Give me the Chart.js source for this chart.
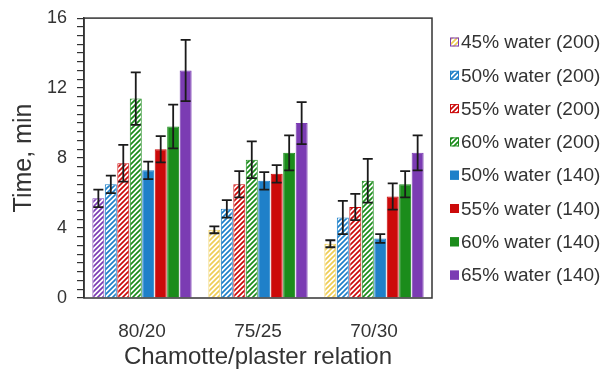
<!DOCTYPE html>
<html>
<head>
<meta charset="utf-8">
<script src="https://cdn.jsdelivr.net/npm/chart.js@4.4.0/dist/chart.umd.min.js"></script>
<style>
  html, body { margin: 0; padding: 0; background: #fff; }
  #wrap { width: 610px; height: 375px; }
</style>
</head>
<body>
<div id="wrap"><canvas id="chart" width="610" height="375"></canvas></div>
<script>
'use strict';

// categories and series
const categories = ['80/20', '75/25', '70/30'];
const seriesLabels = [
  '45% water (200)', '50% water (200)', '55% water (200)', '60% water (200)',
  '50% water (140)', '55% water (140)', '60% water (140)', '65% water (140)'
];
const w45_200 = [5.7, 3.9, 3.1];
const w50_200 = [6.5, 5.1, 4.6];
const w55_200 = [7.7, 6.5, 5.2];
const w60_200 = [11.4, 7.9, 6.7];
const w50_140 = [7.3, 6.7, 3.4];
const w55_140 = [8.5, 7.1, 5.8];
const w60_140 = [9.8, 8.3, 6.5];
const w65_140 = [13.0, 10.0, 8.3];

// error bar half-widths
const e45_200 = [0.5, 0.2, 0.2];
const e50_200 = [0.5, 0.5, 0.95];
const e55_200 = [1.05, 0.75, 0.75];
const e60_200 = [1.5, 1.05, 1.25];
const e50_140 = [0.5, 0.5, 0.25];
const e55_140 = [0.75, 0.5, 0.75];
const e60_140 = [1.25, 1.0, 0.75];
const e65_140 = [1.75, 1.2, 1.0];

const yTicks = [0, 4, 8, 12, 16];

const BLUE = '#1f80c9', RED = '#cc0a0a', GREEN = '#1b8c1b', PURPLE = '#7b3cb3', YELLOW = '#efcd55';
const FONT = 'Liberation Sans, Arial, sans-serif';
const TXT = '#333';

// diagonal hatch pattern: white ground, coloured "/" stripes
function hatch(color) {
  const c = document.createElement('canvas');
  c.width = 5; c.height = 5;
  const g = c.getContext('2d');
  g.fillStyle = '#fff';
  g.fillRect(0, 0, 5, 5);
  g.strokeStyle = color;
  g.lineWidth = 1.7;
  g.beginPath();
  g.moveTo(-1, 6); g.lineTo(6, -1);
  g.moveTo(-1, 1); g.lineTo(1, -1);
  g.moveTo(4, 6); g.lineTo(6, 4);
  g.stroke();
  return g.createPattern(c, 'repeat');
}

const values = [w45_200, w50_200, w55_200, w60_200, w50_140, w55_140, w60_140, w65_140];
const errors = [e45_200, e50_200, e55_200, e60_200, e50_140, e55_140, e60_140, e65_140];
const fills = [
  [hatch(PURPLE), hatch(YELLOW), hatch(YELLOW)],
  hatch(BLUE), hatch(RED), hatch(GREEN),
  BLUE, RED, GREEN, PURPLE
];
const borders = [
  [PURPLE, YELLOW, YELLOW],
  BLUE, RED, GREEN, BLUE, RED, GREEN, PURPLE
];
const legendFills = [hatch(YELLOW), hatch(BLUE), hatch(RED), hatch(GREEN), BLUE, RED, GREEN, PURPLE];
const legendBorders = [PURPLE, BLUE, RED, GREEN, BLUE, RED, GREEN, PURPLE];

// error bars + frame round the plot
const errorBars = {
  id: 'errorBars',
  afterDatasetsDraw(chart) {
    const { ctx } = chart;
    const y = chart.scales.y;
    ctx.save();
    ctx.strokeStyle = '#1a1a1a';
    ctx.lineWidth = 1.8;
    chart.data.datasets.forEach((ds, i) => {
      const meta = chart.getDatasetMeta(i);
      meta.data.forEach((bar, j) => {
        const v = ds.data[j], e = errors[i][j];
        const top = y.getPixelForValue(v + e);
        const bot = y.getPixelForValue(v - e);
        const x = bar.x, cap = 5;
        ctx.beginPath();
        ctx.moveTo(x, top); ctx.lineTo(x, bot);
        ctx.moveTo(x - cap, top); ctx.lineTo(x + cap, top);
        ctx.moveTo(x - cap, bot); ctx.lineTo(x + cap, bot);
        ctx.stroke();
      });
    });
    const a = chart.chartArea;
    ctx.strokeStyle = '#333';
    ctx.lineWidth = 1.5;
    ctx.strokeRect(a.left, a.top, a.right - a.left, a.bottom - a.top);
    ctx.restore();
  }
};

// legend column on the right (built-in one is capped at a quarter of the width)
const sideLegend = {
  id: 'sideLegend',
  afterDraw(chart) {
    const { ctx } = chart;
    const a = chart.chartArea;
    const x0 = a.right + 18, step = 33.3;
    const y0 = 42;
    ctx.save();
    ctx.font = '19px ' + FONT;
    ctx.textBaseline = 'middle';
    seriesLabels.forEach((text, i) => {
      const y = y0 + i * step;
      ctx.fillStyle = legendFills[i];
      ctx.fillRect(x0, y - 4.5, 9, 9);
      ctx.strokeStyle = legendBorders[i];
      ctx.lineWidth = 1;
      ctx.strokeRect(x0 + 0.5, y - 4, 8, 8);
      ctx.fillStyle = TXT;
      ctx.fillText(text, x0 + 11, y + 1);
    });
    ctx.restore();
  }
};

new Chart(document.getElementById('chart'), {
  type: 'bar',
  data: {
    labels: categories,
    datasets: seriesLabels.map((label, i) => ({
      label,
      data: values[i],
      backgroundColor: fills[i],
      borderColor: borders[i],
      borderWidth: 1,
      barPercentage: 0.96,
      categoryPercentage: 0.86,
    })),
  },
  options: {
    responsive: false,
    animation: false,
    layout: { padding: { left: 0, top: 3, right: 178, bottom: 0 } },
    plugins: {
      tooltip: { enabled: false },
      legend: { display: false },
    },
    scales: {
      x: {
        grid: { display: false, drawTicks: false },
        border: { display: false },
        afterFit: s => { s.height = 77; },
        ticks: {
          padding: 22,
          color: TXT,
          font: { family: FONT, size: 19 },
        },
        title: {
          display: true,
          text: 'Chamotte/plaster relation',
          color: TXT,
          padding: { top: 0, bottom: 3 },
          font: { family: FONT, size: 24 },
        },
      },
      y: {
        min: 0,
        max: 16,
        grid: { drawOnChartArea: false, tickLength: 7, color: '#333', lineWidth: 1.2 },
        border: { display: true, color: '#333', width: 1.5 },
        afterFit: s => { s.width = 84; },
        afterBuildTicks: axis => {
          const t = [];
          for (let v = 0; v <= 16; v += 0.5) t.push({ value: v });
          axis.ticks = t;
        },
        ticks: {
          autoSkip: false,
          padding: 10,
          color: TXT,
          font: { family: FONT, size: 18, lineHeight: 0.9 },
          callback: v => (yTicks.includes(v) ? String(v) : ''),
        },
        title: {
          display: true,
          text: 'Time, min',
          color: TXT,
          padding: { top: 9, bottom: 0 },
          font: { family: FONT, size: 25 },
        },
      },
    },
  },
  plugins: [errorBars, sideLegend],
});
</script>
</body>
</html>
